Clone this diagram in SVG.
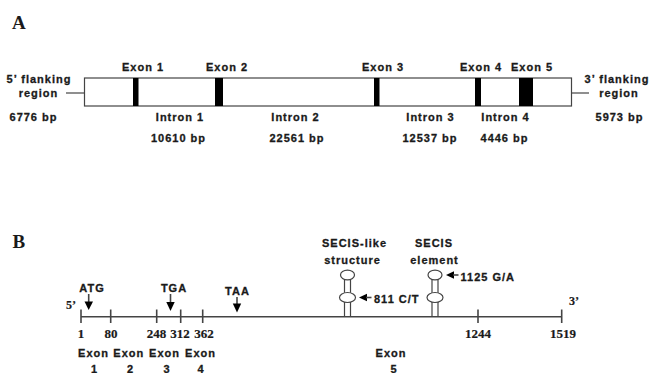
<svg xmlns="http://www.w3.org/2000/svg" width="650" height="373" viewBox="0 0 650 373">
<style>
.t{font-family:"Liberation Sans",Arial,sans-serif;font-weight:bold;font-size:11px;letter-spacing:1px;fill:#1a1a1a;stroke:#1a1a1a;stroke-width:0.3;text-anchor:middle}
.s{font-family:"Liberation Serif","Times New Roman",serif;font-weight:bold;font-size:13px;fill:#1a1a1a;stroke:#1a1a1a;stroke-width:0.2;text-anchor:middle}
.L{font-family:"Liberation Serif","Times New Roman",serif;font-weight:bold;font-size:19px;fill:#1a1a1a}
.ln{stroke:#444;stroke-width:1.2;fill:none}
.ax{stroke:#444;stroke-width:1.6;fill:none}
.ex{fill:#000}
.loop{fill:#fff;stroke:#444;stroke-width:1.2}
.ar{fill:#000}
</style>
<rect width="650" height="373" fill="#fff"/>
<text class="L" x="12" y="29">A</text>
<text class="L" x="12.5" y="248">B</text>

<g id="gene-map">
  <rect x="84.5" y="78" width="487" height="28" fill="#fff" stroke="#444" stroke-width="1.2"/>
  <rect class="ex" x="133" y="78" width="5.5" height="28"/>
  <rect class="ex" x="215" y="78" width="8" height="28"/>
  <rect class="ex" x="374" y="78" width="5.5" height="28"/>
  <rect class="ex" x="475" y="78" width="6" height="28"/>
  <rect class="ex" x="519" y="78" width="14" height="28"/>
</g>
<g id="connectors-A">
  <line class="ln" x1="66" y1="93" x2="84.5" y2="93"/>
  <line class="ln" x1="571.5" y1="93" x2="589" y2="93"/>
</g>
<g id="labels-A">
  <text class="t" x="143" y="71">Exon 1</text>
  <text class="t" x="227" y="71">Exon 2</text>
  <text class="t" x="383" y="71">Exon 3</text>
  <text class="t" x="481" y="71">Exon 4</text>
  <text class="t" x="532" y="71">Exon 5</text>
  <text class="t" x="39" y="82.5">5’ flanking</text>
  <text class="t" x="38.5" y="96.5">region</text>
  <text class="t" x="617" y="82.5">3’ flanking</text>
  <text class="t" x="619" y="96.5">region</text>
  <text class="t" x="33.5" y="121">6776 bp</text>
  <text class="t" x="619.5" y="121">5973 bp</text>
  <text class="t" x="180" y="121">Intron 1</text>
  <text class="t" x="295.5" y="121">Intron 2</text>
  <text class="t" x="430.5" y="121">Intron 3</text>
  <text class="t" x="505.5" y="121">Intron 4</text>
  <text class="t" x="178.5" y="142">10610 bp</text>
  <text class="t" x="297" y="142">22561 bp</text>
  <text class="t" x="430" y="142">12537 bp</text>
  <text class="t" x="504.5" y="142">4446 bp</text>
</g>

<g id="mrna-axis">
  <line class="ax" x1="81" y1="316.7" x2="561.7" y2="316.7"/>
  <line class="ax" x1="81" y1="309.5" x2="81" y2="323"/>
  <line class="ax" x1="110.7" y1="309.5" x2="110.7" y2="323"/>
  <line class="ax" x1="156.7" y1="309.5" x2="156.7" y2="323"/>
  <line class="ax" x1="180.7" y1="309.5" x2="180.7" y2="323"/>
  <line class="ax" x1="202.7" y1="309.5" x2="202.7" y2="323"/>
  <line class="ax" x1="478" y1="309.5" x2="478" y2="323"/>
  <line class="ax" x1="561.7" y1="309.5" x2="561.7" y2="323"/>
  <text class="s" x="81" y="338">1</text>
  <text class="s" x="111" y="338">80</text>
  <text class="s" x="156.5" y="338">248</text>
  <text class="s" x="180" y="338">312</text>
  <text class="s" x="204" y="338">362</text>
  <text class="s" x="478" y="338">1244</text>
  <text class="s" x="563" y="338">1519</text>
  <text class="s" x="71" y="309" style="font-size:12px">5’</text>
  <text class="s" x="574" y="305" style="font-size:12px">3’</text>
</g>

<g id="codons">
  <text class="t" x="92" y="292">ATG</text>
  <line class="ax" x1="88.7" y1="294" x2="88.7" y2="302"/>
  <polygon class="ar" points="84.5,301.5 93,301.5 88.7,310"/>
  <text class="t" x="174" y="292">TGA</text>
  <line class="ax" x1="170.5" y1="294" x2="170.5" y2="302"/>
  <polygon class="ar" points="166.3,302 174.7,302 170.5,311"/>
  <text class="t" x="237.5" y="295">TAA</text>
  <line class="ax" x1="237" y1="297" x2="237" y2="304"/>
  <polygon class="ar" points="232.8,303.5 241.2,303.5 237,312.5"/>
</g>

<g id="secis-like">
  <text class="t" x="354.5" y="247">SECIS-like</text>
  <text class="t" x="352.5" y="264">structure</text>
  <line class="ln" x1="344.5" y1="279" x2="344.5" y2="293"/>
  <line class="ln" x1="350.5" y1="279" x2="350.5" y2="293"/>
  <line class="ln" x1="344.5" y1="302" x2="344.5" y2="316.7"/>
  <line class="ln" x1="350.5" y1="302" x2="350.5" y2="316.7"/>
  <ellipse class="loop" cx="347.5" cy="275" rx="7" ry="4.8"/>
  <ellipse class="loop" cx="347.5" cy="297.5" rx="8" ry="5"/>
  <polygon class="ar" points="359,297.5 367,293.8 367,301.2"/>
  <line class="ax" x1="366" y1="297.5" x2="371.5" y2="297.5"/>
  <text class="t" x="374" y="303" style="text-anchor:start">811 C/T</text>
</g>

<g id="secis-element">
  <text class="t" x="434" y="247">SECIS</text>
  <text class="t" x="434.5" y="264">element</text>
  <line class="ln" x1="432" y1="279" x2="432" y2="293"/>
  <line class="ln" x1="438" y1="279" x2="438" y2="293"/>
  <line class="ln" x1="432" y1="302" x2="432" y2="316.7"/>
  <line class="ln" x1="438" y1="302" x2="438" y2="316.7"/>
  <ellipse class="loop" cx="435" cy="275" rx="7" ry="4.8"/>
  <ellipse class="loop" cx="435" cy="297.5" rx="8" ry="5"/>
  <polygon class="ar" points="446,275 454,271.3 454,278.7"/>
  <line class="ax" x1="453" y1="275" x2="458.5" y2="275"/>
  <text class="t" x="460.5" y="281" style="text-anchor:start">1125 G/A</text>
</g>

<g id="exon-labels-B">
  <text class="t" x="93.5" y="357">Exon</text>
  <text class="t" x="128.8" y="357">Exon</text>
  <text class="t" x="164.5" y="357">Exon</text>
  <text class="t" x="200.5" y="357">Exon</text>
  <text class="t" x="94.5" y="372.5">1</text>
  <text class="t" x="130.5" y="372.5">2</text>
  <text class="t" x="167" y="372.5">3</text>
  <text class="t" x="201" y="372.5">4</text>
  <text class="t" x="391" y="357">Exon</text>
  <text class="t" x="394" y="372.5">5</text>
</g>
</svg>
